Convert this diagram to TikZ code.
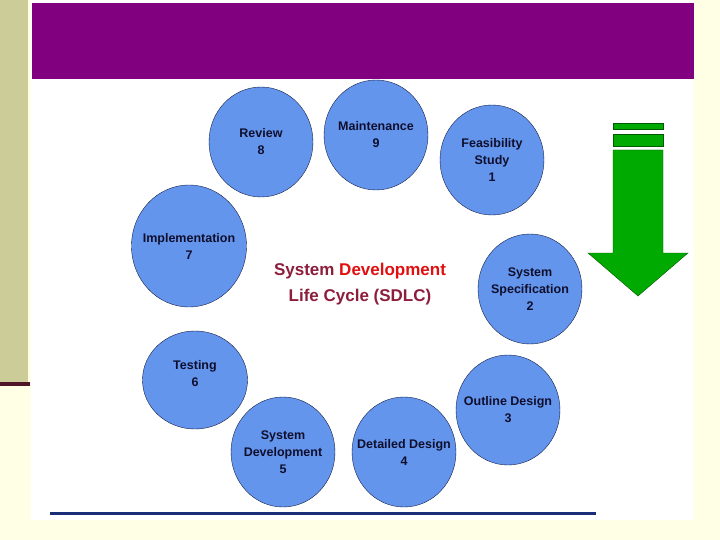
\documentclass[tikz,border=0pt]{standalone}
\usepackage{fontspec}
\setmainfont{Liberation Sans}
\usetikzlibrary{shapes.geometric}
\definecolor{pagebg}{RGB}{255,255,230}
\definecolor{strip}{RGB}{204,204,153}
\definecolor{stripline}{RGB}{80,20,40}
\definecolor{titlebar}{RGB}{128,0,128}
\definecolor{phase}{RGB}{100,149,237}
\definecolor{phaseline}{RGB}{20,30,70}
\definecolor{phasetext}{RGB}{15,15,45}
\definecolor{maroon}{RGB}{140,30,60}
\definecolor{devred}{RGB}{225,15,15}
\definecolor{arrowgreen}{RGB}{0,170,0}
\definecolor{arrowline}{RGB}{0,90,0}
\definecolor{footline}{RGB}{25,45,120}

\begin{document}
\begin{tikzpicture}[x=1pt,y=-1pt]
\tikzstyle{every node}=[font=\fontsize{12.5}{17}\selectfont\bfseries, text=phasetext, align=center]
\tikzstyle{phasebox}=[shape=ellipse, draw=phaseline, fill=phase, inner xsep=-25pt, inner ysep=0pt, minimum width=104pt, minimum height=110pt]
\useasboundingbox (0,0) rectangle (720,540);
\fill[pagebg] (0,0) rectangle (720,540);
\fill[strip] (0,0) rectangle (28,382);
\fill[stripline] (0,382) rectangle (30,386);
\fill[white] (31,0) rectangle (694,520);
\fill[titlebar] (32,3) rectangle (694,79);
\draw[footline, line width=3pt] (50,513) -- (596,513);

\node[phasebox] (feas) at (492,160) {Feasibility\\Study\\1};
\node[phasebox] (spec) at (530,289) {System\\Specification\\2};
\node[phasebox] (outline) at (508,410) {Outline Design\\3};
\node[phasebox] (detail) at (404,452) {Detailed Design\\4};
\node[phasebox] (sysdev) at (283,452) {System\\Development\\5};
\node[phasebox, minimum width=105pt, minimum height=98pt] (test) at (195,380) {};
\node (testtext) at (195,374) {Testing\\6};
\node[phasebox, minimum width=115pt, minimum height=122pt] (impl) at (189,246) {Implementation\\7};
\node[phasebox] (review) at (261,142) {Review\\8};
\node[phasebox] (maint) at (376,135) {Maintenance\\9};

\node[font=\fontsize{17}{26}\selectfont\bfseries, text=maroon] (title) at (360,284)
{System \textcolor{devred}{Development}\\Life Cycle (SDLC)};

\draw[arrowline, fill=arrowgreen] (613,123) rectangle (663,129);
\draw[arrowline, fill=arrowgreen] (613,134) rectangle (663,146);
\draw[arrowline, fill=arrowgreen] (613,150) -- (663,150) -- (663,253) -- (688,253)
-- (638,296) -- (588,253) -- (613,253) -- cycle;

\end{tikzpicture}
\end{document}
